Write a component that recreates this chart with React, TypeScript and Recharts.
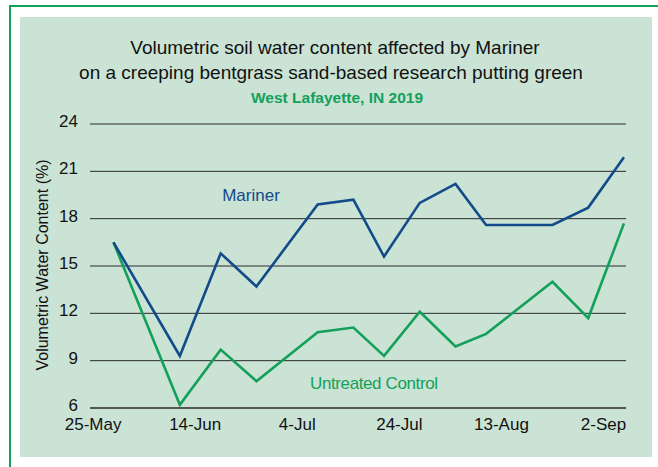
import { CartesianGrid, Line, LineChart, XAxis, YAxis } from "recharts";

// measurement dates (2019), as day offsets from 25-May
const sampleDates = [
  "2019-05-29", "2019-06-11", "2019-06-19", "2019-06-26", "2019-07-08", "2019-07-15", "2019-07-21",
  "2019-07-28", "2019-08-04", "2019-08-10", "2019-08-23", "2019-08-30", "2019-09-06"
];
const mariner = [16.5, 9.3, 15.8, 13.7, 18.9, 19.2, 15.6, 19.0, 20.2, 17.6, 17.6, 18.7, 21.9];
const untreated = [16.5, 6.2, 9.7, 7.7, 10.8, 11.1, 9.3, 12.1, 9.9, 10.7, 14.0, 11.7, 17.7];

const xTickDays = [0, 20, 40, 60, 80, 100];
const xTickLabels = ["25-May", "14-Jun", "4-Jul", "24-Jul", "13-Aug", "2-Sep"];
const yTicks = [6, 9, 12, 15, 18, 21, 24];

const START = Date.UTC(2019, 4, 25);
const DAY = 86400000;

const data = sampleDates.map((d, i) => ({
  day: (Date.parse(d + "T00:00:00Z") - START) / DAY,
  mariner: mariner[i],
  untreated: untreated[i]
}));

const font = "'Liberation Sans', Arial, Helvetica, sans-serif";
const blue = "#134a8a";
const green = "#14a05a";
const bg = "#cae3d5";

function XTick({ x, y, payload }: any) {
  return (
    <text x={x} y={y} dy={13} textAnchor="middle" fontSize={17} fontFamily={font} fill="#111">
      {xTickLabels[xTickDays.indexOf(payload.value)]}
    </text>
  );
}

function YTick({ x, y, payload }: any) {
  return (
    <text x={x} y={y - 3} dy={6} textAnchor="end" fontSize={17} fontFamily={font} fill="#111">
      {payload.value}
    </text>
  );
}

export default function App() {
  return (
    <div style={{ position: "absolute", left: 0, top: 0, width: 658, height: 467, background: "#fff", overflow: "hidden" }}>
      <div
        style={{
          position: "absolute",
          left: 9,
          top: 5,
          width: 670,
          height: 480,
          borderTop: `2px solid ${green}`,
          borderLeft: `2px solid ${green}`
        }}
      />
      <div style={{ position: "absolute", left: 20, top: 17, width: 632, height: 440, background: bg }} />

      <div style={{ position: "absolute", left: 0, top: 0 }}>
        <LineChart width={658} height={467} data={data} margin={{ top: 124, right: 32, bottom: 28, left: 20 }}>
          <CartesianGrid vertical={false} stroke="#2a2a2a" />
          <XAxis
            dataKey="day"
            type="number"
            domain={[-0.6, 104.4]}
            ticks={xTickDays}
            height={31}
            tickLine={false}
            tickMargin={3}
            axisLine={{ stroke: "#2a2a2a" }}
            tick={<XTick />}
          />
          <YAxis
            domain={[6, 24]}
            ticks={yTicks}
            width={70}
            tickLine={false}
            axisLine={false}
            tickMargin={6}
            tick={<YTick />}
          />
          <Line type="linear" dataKey="untreated" stroke={green} strokeWidth={2.6} dot={false} isAnimationActive={false} />
          <Line type="linear" dataKey="mariner" stroke={blue} strokeWidth={2.6} dot={false} isAnimationActive={false} />
        </LineChart>
      </div>

      <svg width={658} height={467} style={{ position: "absolute", left: 0, top: 0, pointerEvents: "none" }}>
        <g fontFamily={font}>
          <text x={335} y={54} textAnchor="middle" fontSize={19} fill="#111">
            Volumetric soil water content affected by Mariner
          </text>
          <text x={331} y={79} textAnchor="middle" fontSize={19} fill="#111">
            on a creeping bentgrass sand-based research putting green
          </text>
          <text x={337} y={103} textAnchor="middle" fontSize={15.5} fontWeight="bold" fill={green}>
            West Lafayette, IN 2019
          </text>
          <text x={0} y={0} transform="translate(48,265) rotate(-90)" textAnchor="middle" fontSize={16} fill="#111">
            Volumetric Water Content (%)
          </text>
          <text x={251} y={201} textAnchor="middle" fontSize={17} fill={blue}>
            Mariner
          </text>
          <text x={374} y={389} textAnchor="middle" fontSize={17} textLength={128} fill={green}>
            Untreated Control
          </text>
        </g>
      </svg>
    </div>
  );
}
